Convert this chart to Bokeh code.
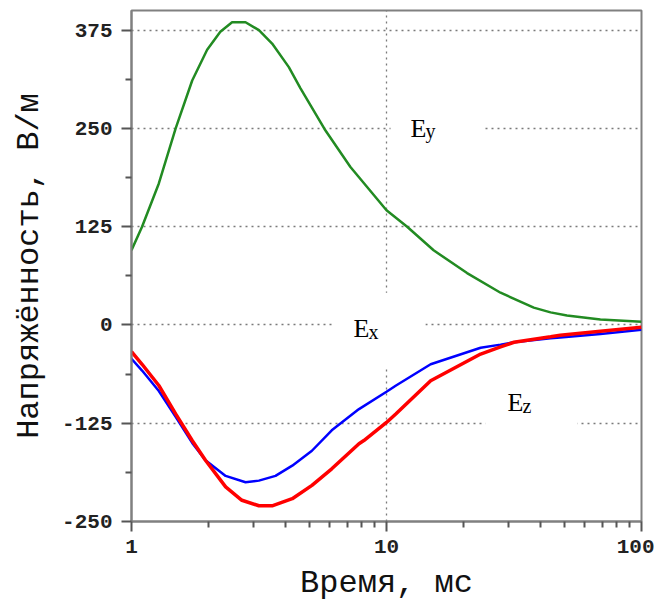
from bokeh.plotting import figure
from bokeh.models import (Range1d, FixedTicker, PrintfTickFormatter,
                          BoxAnnotation, Label, Title)
from bokeh.embed import file_html
from bokeh.resources import INLINE

# ---- data (time in ms, field strength in V/m) ----
t_ey = [1, 1.10, 1.28, 1.49, 1.73, 1.98, 2.23, 2.48, 2.80, 3.16, 3.56, 4.14,
        4.60, 5.72, 7.22, 10, 12.05, 15.3, 20.7, 28, 37.8, 44, 51, 69, 100]
ey = [95, 125, 180, 250, 311, 350, 373, 385, 385, 375, 358, 328,
      301, 249, 201, 146, 125, 95, 66, 41, 22, 16, 12, 7, 4]

t_ex = [1, 1.10, 1.28, 1.49, 1.73, 1.95, 2.34, 2.80, 3.16, 3.67, 4.27, 5.1,
        6.1, 7.8, 10, 10.9, 14.9, 23.4, 28, 31.6, 44, 48, 69, 100]
ex = [-43, -58, -84, -117, -150, -172, -192, -200, -198, -192, -179, -160,
      -134, -107, -85, -77, -50, -29, -25, -22, -17, -16, -11.5, -6]

t_ez = [1, 1.10, 1.28, 1.49, 1.73, 1.95, 2.34, 2.71, 3.16, 3.56, 4.27, 5.1,
        6.1, 7.8, 8.15, 10, 10.9, 14.9, 23.4, 28, 31.6, 44, 48, 69, 100]
ez = [-34, -50, -77, -113, -147, -172, -206, -223, -230, -230, -221, -204,
      -183, -151, -147, -124, -113, -71, -37, -28, -22, -15, -13, -8, -3]

x_major = [1, 10, 100]
x_minor = [2, 3, 4, 5, 6, 7, 8, 9, 20, 30, 40, 50, 60, 70, 80, 90]
y_major = [-250, -125, 0, 125, 250, 375]
y_minor = [-187.5, -62.5, 62.5, 187.5, 312.5]

x_label = "Время, мс"
y_label = "Напряжённость, В/м"

# ---- figure ----
p = figure(width=654, height=604, x_axis_type="log",
           x_range=Range1d(1, 100), y_range=Range1d(-250, 400),
           output_backend="svg", toolbar_location=None,
           min_border_left=131, min_border_right=13, min_border_top=10,
           min_border_bottom=0)
p.background_fill_color = "white"
p.border_fill_color = "white"
p.outline_line_color = "#808080"
p.outline_line_width = 2

p.xaxis.ticker = FixedTicker(ticks=x_major, minor_ticks=x_minor)
p.yaxis.ticker = FixedTicker(ticks=y_major, minor_ticks=y_minor)
p.xaxis.formatter = PrintfTickFormatter(format="%d")
p.yaxis.formatter = PrintfTickFormatter(format="%d")

for ax in (p.xaxis[0], p.yaxis[0]):
    ax.axis_line_color = "#808080"
    ax.axis_line_width = 2
    ax.major_tick_line_color = "#555555"
    ax.major_tick_line_width = 2
    ax.minor_tick_line_color = "#555555"
    ax.minor_tick_line_width = 2
    ax.major_tick_in = 0
    ax.major_tick_out = 10
    ax.minor_tick_in = 0
    ax.minor_tick_out = 6
    ax.major_label_text_font = "Liberation Mono"
    ax.major_label_text_font_size = "21px"
    ax.major_label_text_font_style = "bold"
    ax.major_label_text_color = "#222222"
p.xaxis.major_label_standoff = 8
p.yaxis.major_label_standoff = 9

p.xaxis.axis_label = x_label
p.xaxis.axis_label_text_font = "Liberation Mono"
p.xaxis.axis_label_text_font_size = "32px"
p.xaxis.axis_label_text_font_style = "normal"
p.xaxis.axis_label_text_color = "#111111"
p.xaxis.axis_label_standoff = 9

p.grid.grid_line_color = "#7a7a7a"
p.grid.grid_line_dash = "2 4"
p.grid.grid_line_width = 1.3

# white boxes behind the component labels
boxes = [(6.20, 14.2, 40.9, -54.4), (10.37, 23.8, 298.8, 203.5),
         (24.4, 56.1, -50.6, -145.8)]
for l, r, t, b in boxes:
    p.add_layout(BoxAnnotation(left=l, right=r, top=t, bottom=b,
                               fill_color="white", fill_alpha=1,
                               line_alpha=0, level="underlay"))

# curves
p.line(t_ey, ey, line_color="#228b22", line_width=2.5)
p.line(t_ex, ex, line_color="#0000ff", line_width=2.5)
p.line(t_ez, ez, line_color="#ff0000", line_width=3.5)

# component labels
labels = [("E", "x", 7.42, -4.8, 8.50, -8.6),
          ("E", "y", 12.42, 250.5, 14.22, 246.7),
          ("E", "z", 29.8, -98.8, 34.15, -102.6)]
for main, sub, mx, my, sx, sy in labels:
    p.add_layout(Label(x=mx, y=my, text=main, text_font="Liberation Serif",
                       text_font_size="26px", text_color="black",
                       text_baseline="alphabetic", text_align="left"))
    p.add_layout(Label(x=sx, y=sy, text=sub, text_font="Liberation Serif",
                       text_font_size="20px", text_color="black",
                       text_baseline="alphabetic", text_align="left"))

# y axis title
p.add_layout(Title(text=y_label, align="center", offset=33, standoff=20,
                   vertical_align="top",
                   text_font="Liberation Mono", text_font_size="32px",
                   text_font_style="normal", text_color="#111111"), "left")

open("out.html", "w").write(file_html(p, INLINE))
